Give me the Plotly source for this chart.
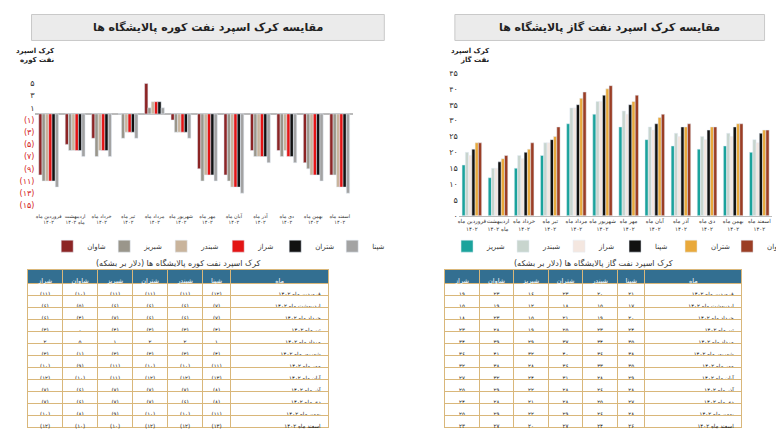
import plotly.graph_objects as go

months = ["فروردین ماه<br>۱۴۰۲", "اردیبهشت<br>ماه ۱۴۰۲", "خرداد ماه<br>۱۴۰۲", "تیر ماه<br>۱۴۰۲",
          "مرداد ماه<br>۱۴۰۲", "شهریور ماه<br>۱۴۰۲", "مهر ماه<br>۱۴۰۲", "آبان ماه<br>۱۴۰۲",
          "آذر ماه<br>۱۴۰۲", "دی ماه<br>۱۴۰۲", "بهمن ماه<br>۱۴۰۲", "اسفند ماه<br>۱۴۰۲"]
month_rows = ["فروردین ماه ۱۴۰۲", "اردیبهشت ماه ۱۴۰۲", "خرداد ماه ۱۴۰۲", "تیر ماه ۱۴۰۲",
              "مرداد ماه ۱۴۰۲", "شهریور ماه ۱۴۰۲", "مهر ماه ۱۴۰۲", "آبان ماه ۱۴۰۲",
              "آذر ماه ۱۴۰۲", "دی ماه ۱۴۰۲", "بهمن ماه ۱۴۰۲", "اسفند ماه ۱۴۰۲"]

# gas oil crack spread
gas = {
    "شپنا": [21, 17, 20, 24, 35, 38, 35, 29, 28, 27, 28, 26],
    "شبندر": [20, 15, 19, 23, 34, 36, 33, 28, 26, 25, 26, 24],
    "شتران": [23, 18, 21, 25, 37, 40, 36, 31, 28, 28, 29, 27],
    "شبریز": [16, 12, 15, 19, 29, 32, 28, 24, 22, 21, 22, 20],
    "شاوان": [23, 19, 23, 28, 39, 41, 38, 32, 29, 28, 29, 27],
    "شراز": [19, 15, 18, 23, 34, 36, 32, 27, 25, 24, 25, 23],
}
# fuel oil crack spread
fuel = {
    "شپنا": [-12, -7, -7, -4, 1, -4, -11, -13, -8, -8, -11, -13],
    "شبندر": [-11, -6, -6, -3, 2, -3, -10, -12, -7, -6, -10, -12],
    "شتران": [-11, -6, -6, -3, 2, -3, -10, -12, -7, -7, -10, -12],
    "شبریز": [-11, -6, -7, -4, 1, -3, -11, -11, -7, -7, -9, -10],
    "شاوان": [-10, -5, -4, 0, 5, -1, -9, -10, -6, -6, -8, -10],
    "شراز": [-11, -6, -6, -3, 2, -3, -10, -12, -7, -7, -10, -12],
}

gas_order = ["شبریز", "شبندر", "شراز", "شپنا", "شتران", "شاوان"]
gas_colors = ["#1ba39c", "#c8d5ce", "#f4e7e0", "#111111", "#e9a93b", "#9b3e25"]
fuel_order = ["شاوان", "شبریز", "شبندر", "شراز", "شتران", "شپنا"]
fuel_colors = ["#8c2525", "#9a968b", "#c9b49c", "#e31414", "#111111", "#a3a3a3"]
table_cols = ["شراز", "شاوان", "شبریز", "شتران", "شبندر", "شپنا"]

FA = str.maketrans("0123456789", "۰۱۲۳۴۵۶۷۸۹")
def fa(v):
    s = str(abs(v)).translate(FA)
    return "(" + s + ")" if v < 0 else s

font = "DejaVu Sans"
fig = go.Figure()

for name, c in zip(gas_order, gas_colors):
    fig.add_trace(go.Bar(x=months, y=gas[name], name=name, marker_color=c,
                         xaxis="x2", yaxis="y2", legend="legend2"))
for name, c in zip(fuel_order, fuel_colors):
    fig.add_trace(go.Bar(x=months, y=fuel[name], name=name, marker_color=c,
                         xaxis="x", yaxis="y", legend="legend"))

def table(data, domx, domy):
    header = table_cols + ["ماه"]
    cells = [[fa(v) for v in data[c]] for c in table_cols] + [month_rows]
    return go.Table(
        domain=dict(x=domx, y=domy), columnwidth=[1, 1, 1, 1, 1, 0.8, 2.8],
        header=dict(values=header, fill_color="#336f91", line_color="#d9b77a",
                    font=dict(color="white", size=6.5, family=font), height=14, align="center"),
        cells=dict(values=cells, fill_color="white", line_color="#d9b77a",
                   font=dict(color="#222", size=5.5, family=font), height=12,
                   align=["center"] * 6 + ["right"]))

fig.add_trace(table(gas, [0.557, 0.937], [0.0, 0.395]))
fig.add_trace(table(fuel, [0.025, 0.41], [0.0, 0.395]))

tv = [5, 3, 1, -1, -3, -5, -7, -9, -11, -13, -15]
tt = [fa(v) if v > 0 else "<span style='color:#d42020'>" + fa(v) + "</span>" for v in tv]

ann = dict(xref="paper", yref="paper", showarrow=False, xanchor="center", yanchor="middle")
fig.update_layout(
    width=784, height=433, margin=dict(l=0, r=0, t=0, b=0, autoexpand=False),
    paper_bgcolor="white", plot_bgcolor="white", font=dict(family=font, size=7, color="#333"),
    bargap=0.25, showlegend=True,
    xaxis=dict(domain=[0.035, 0.44], anchor="y", tickangle=0, tickfont_size=5, showline=False),
    yaxis=dict(domain=[0.53, 0.84], range=[-16, 6], tickvals=tv, ticktext=tt, showgrid=False,
               zeroline=True, zerolinecolor="#bbb", tickfont=dict(size=8, color="#333")),
    xaxis2=dict(domain=[0.575, 0.975], anchor="y2", tickangle=0, tickfont_size=5.5,
                showline=True, linecolor="#bbb"),
    yaxis2=dict(domain=[0.52, 0.85], range=[0, 45], anchor="x2", showgrid=False,
                tickvals=list(range(0, 50, 5)), ticktext=[fa(v) for v in range(0, 50, 5)],
                tickfont_size=8),
    legend=dict(orientation="h", x=0.05, xanchor="left", y=0.45, yanchor="middle",
                bgcolor="rgba(0,0,0,0)", font_size=7, traceorder="normal",
                itemwidth=30, entrywidth=12),
    legend2=dict(orientation="h", x=0.56, xanchor="left", y=0.45, yanchor="middle",
                 bgcolor="rgba(0,0,0,0)", font_size=7, traceorder="normal",
                 itemwidth=30, entrywidth=11),
    shapes=[
        dict(type="rect", xref="paper", yref="paper", x0=0.57, x1=0.965, y0=0.925, y1=0.985,
             fillcolor="#ebebeb", line=dict(color="#c9c9c9", width=1)),
        dict(type="rect", xref="paper", yref="paper", x0=0.03, x1=0.48, y0=0.925, y1=0.985,
             fillcolor="#ebebeb", line=dict(color="#c9c9c9", width=1)),
    ],
    annotations=[
        dict(text="<b>مقایسه کرک اسپرد نفت گاز پالایشگاه ها</b>", x=0.767, y=0.955,
             font=dict(size=11, color="#222"), **ann),
        dict(text="<b>مقایسه کرک اسپرد نفت کوره پالایشگاه ها</b>", x=0.255, y=0.955,
             font=dict(size=11, color="#222"), **ann),
        dict(text="<b>کرک اسپرد<br>نفت گاز</b>", x=0.59, y=0.89,
             font=dict(size=7, color="#222"), align="right", **ann),
        dict(text="<b>کرک اسپرد<br>نفت کوره</b>", x=0.035, y=0.89,
             font=dict(size=7, color="#222"), align="right", **ann),
        dict(text="کرک اسپرد نفت گاز پالایشگاه ها (دلار بر بشکه)", x=0.747, y=0.41,
             font=dict(size=8, color="#333"), **ann),
        dict(text="کرک اسپرد نفت کوره پالایشگاه ها (دلار بر بشکه)", x=0.217, y=0.41,
             font=dict(size=8, color="#333"), **ann),
    ],
)

fig.write_html("out.html")
